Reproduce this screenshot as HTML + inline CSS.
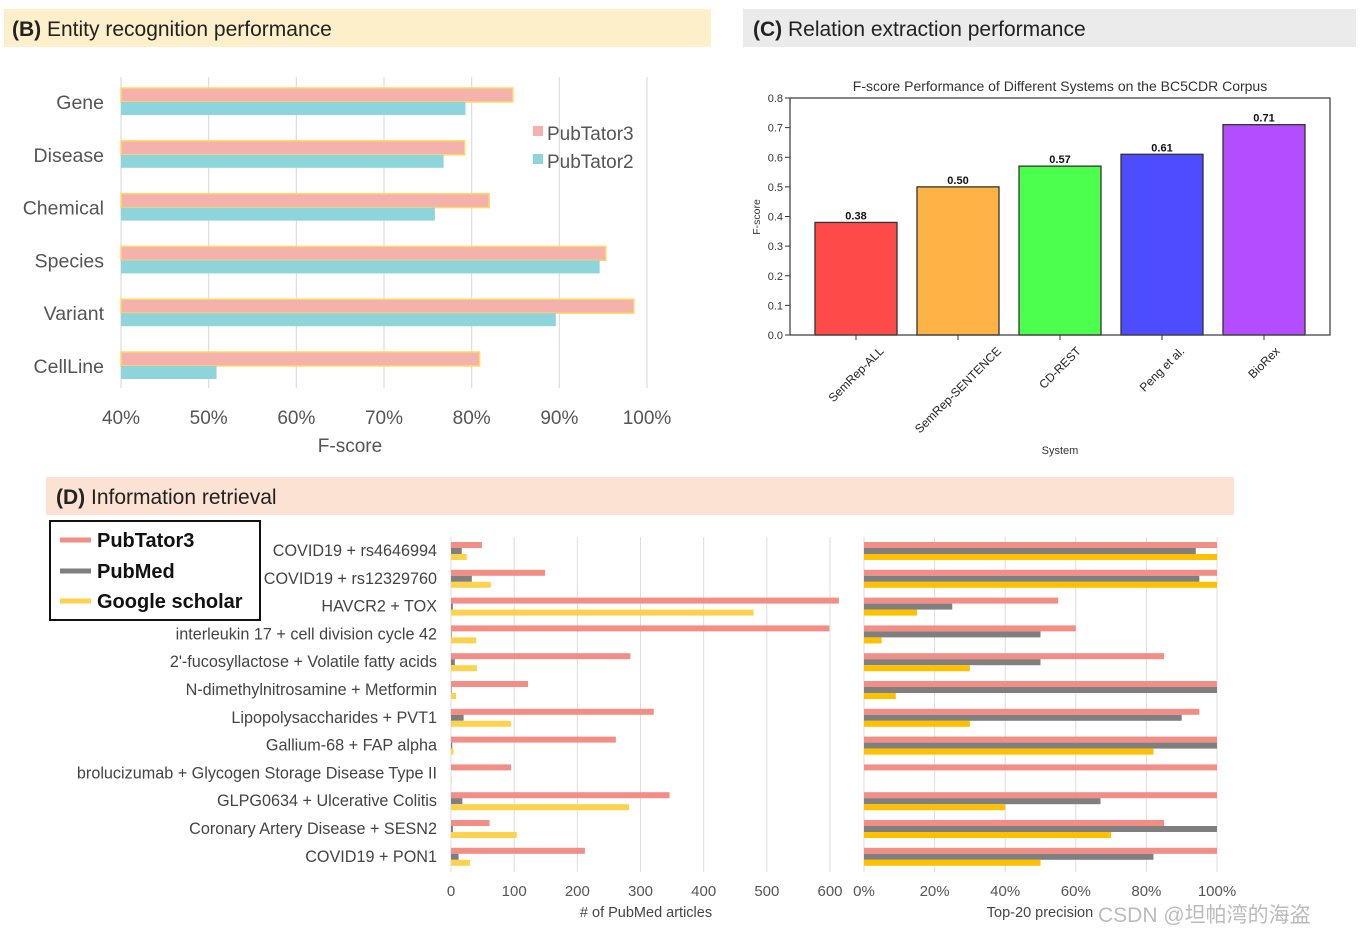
<!DOCTYPE html>
<html><head><meta charset="utf-8"><style>
html,body{margin:0;padding:0;background:#fff;}
svg{display:block;font-family:"Liberation Sans","Noto Sans CJK SC",sans-serif;}
</style></head><body>
<svg id="s" width="1362" height="938" viewBox="0 0 1362 938">
<rect x="4" y="9" width="707" height="38" fill="#fdefc9"/>
<text x="12" y="36" font-size="21" fill="#222"><tspan font-weight="bold">(B)</tspan> Entity recognition performance</text>
<rect x="743" y="9" width="613" height="38" fill="#ebebeb"/>
<text x="753" y="36" font-size="21" fill="#222"><tspan font-weight="bold">(C)</tspan> Relation extraction performance</text>
<rect x="46" y="477" width="1188" height="38" fill="#fbe2d3"/>
<text x="56" y="504" font-size="21" fill="#222"><tspan font-weight="bold">(D)</tspan> Information retrieval</text>
<g id="gB"></g>
<g id="gC"></g>
<g id="gD"></g>
<text x="1098" y="922" font-size="21" fill="#bbb">CSDN @坦帕湾的海盗</text>
</svg>
<script>
// Panel B data
const bCats=["Gene","Disease","Chemical","Species","Variant","CellLine"];
const bPT3=[84.7,79.2,82.0,95.3,98.5,80.9];
const bPT2=[79.3,76.8,75.8,94.6,89.6,50.9];
const bTicks=[40,50,60,70,80,90,100];
// Panel C data
const cCats=["SemRep-ALL","SemRep-SENTENCE","CD-REST","Peng et al.","BioRex"];
const cVals=[0.38,0.50,0.57,0.61,0.71];
const cTicks=[0,0.1,0.2,0.3,0.4,0.5,0.6,0.7,0.8];
// Panel D data
const dCats=["COVID19 + rs4646994","COVID19 + rs12329760","HAVCR2 + TOX","interleukin 17 + cell division cycle 42","2'-fucosyllactose + Volatile fatty acids","N-dimethylnitrosamine + Metformin","Lipopolysaccharides + PVT1","Gallium-68 + FAP alpha","brolucizumab + Glycogen Storage Disease Type II","GLPG0634 + Ulcerative Colitis","Coronary Artery Disease + SESN2","COVID19 + PON1"];
const dArtPT3=[49,149,614,599,284,122,321,261,95,346,61,212];
const dArtPM=[17,33,3,1,6,1,20,2,0,18,3,12];
const dArtGS=[25,63,479,40,41,8,95,4,1,282,104,30];
const dPrecPT3=[100,100,55,60,85,100,95,100,100,100,85,100];
const dPrecPM=[94,95,25,50,50,100,90,100,0,67,100,82];
const dPrecGS=[100,100,15,5,30,9,30,82,0,40,70,50];
const dArtTicks=[0,100,200,300,400,500,600];
const dPrecTicks=[0,20,40,60,80,100];

const NS="http://www.w3.org/2000/svg";
function mk(p,tag,at,txt){const e=document.createElementNS(NS,tag);for(const k in at)e.setAttribute(k,at[k]);if(txt!==undefined)e.textContent=txt;p.appendChild(e);return e;}

// ---- B
const gB=document.getElementById('gB');
const bx=v=>121+(v-40)*(647-121)/60;
const by=i=>102+i*52.8;
bTicks.forEach(t=>{
 const l=mk(gB,'line',{x1:bx(t),x2:bx(t),y1:77,y2:388,stroke:'#ddd','stroke-width':1.2});
 
 
 const tx=mk(gB,'text',{x:bx(t),y:424,'font-size':19,fill:'#555','text-anchor':'middle'},t+'%');
 
 
});
bCats.forEach((c,i)=>{
 const y=by(i);
 const t=mk(gB,'text',{x:104,y:y+7,'font-size':19.5,fill:'#555','text-anchor':'end'},c);
 
 
 const r1=mk(gB,'rect',{x:121,y:y-14,width:bx(bPT3[i])-121,height:14,fill:'#f5b1ab',stroke:'#ffd966','stroke-width':1.5});
 
 
 const r2=mk(gB,'rect',{x:121,y:y,width:bx(bPT2[i])-121,height:13,fill:'#8dd5da'});
 
 
});
const bxt=mk(gB,'text',{x:350,y:452,'font-size':19,fill:'#555','text-anchor':'middle'},'F-score');


[['PubTator3','#f5b1ab',134],['PubTator2','#8dd5da',162]].forEach(([n,c,y])=>{
 const r=mk(gB,'rect',{x:533,y:y-8,width:10,height:10,fill:c});
 
 
 const t=mk(gB,'text',{x:547,y:y+6,'font-size':19,fill:'#555'},n);
 
 
});

// ---- C
const gC=document.getElementById('gC');
const cy=v=>335-v*(335-98)/0.8;
const cx=i=>856+i*102;
const cCol=['#ff4a4a','#ffb347','#4dff4d','#4d4dff','#b44dff'];
const ct=mk(gC,'text',{x:1060,y:91,'font-size':14,fill:'#333','text-anchor':'middle'},'F-score Performance of Different Systems on the BC5CDR Corpus');


cTicks.forEach(t=>{
 const l=mk(gC,'line',{x1:785,x2:790,y1:cy(t),y2:cy(t),stroke:'#333'});
 
 
 const tx=mk(gC,'text',{x:783,y:cy(t)+4,'font-size':11,fill:'#333','text-anchor':'end'},t.toFixed(1));
 
 
});
cCats.forEach((c,i)=>{
 const r=mk(gC,'rect',{x:cx(i)-41,y:cy(cVals[i]),width:82,height:335-cy(cVals[i]),fill:cCol[i],stroke:'#333','stroke-width':1.3});
 
 
 const v=mk(gC,'text',{x:cx(i),y:cy(cVals[i])-3,'font-size':11,'font-weight':'bold',fill:'#111','text-anchor':'middle'},cVals[i].toFixed(2));
 
 
 const tk=mk(gC,'line',{x1:cx(i),x2:cx(i),y1:335,y2:340,stroke:'#333'});
 
 
 const lb=mk(gC,'text',{x:0,y:0,'font-size':12,fill:'#222','text-anchor':'middle'},c);
 
 
 const len=lb.getComputedTextLength();
 const ccy=345+len*0.3536+4;
 lb.setAttribute('transform',`translate(${cx(i)} ${ccy}) rotate(-45) translate(0 4)`);
});
const cf=mk(gC,'rect',{x:790,y:98,width:540,height:237,fill:'none',stroke:'#444','stroke-width':1.3});


const cyt=mk(gC,'text',{x:760,y:217,'font-size':10.5,fill:'#333','text-anchor':'middle',transform:'rotate(-90 760 217)'},'F-score');


const cxt=mk(gC,'text',{x:1060,y:454,'font-size':11,fill:'#333','text-anchor':'middle'},'System');



// ---- D
const gD=document.getElementById('gD');
const ax=v=>451+v*(830-451)/600;
const px=v=>864+v*(1217-864)/100;
const dy=i=>551+i*27.8;
const cR='#f28e86',cG='#7f7f7f',cY='#ffd24d',cY2='#ffc000';
dArtTicks.forEach(t=>{
 const l=mk(gD,'line',{x1:ax(t),x2:ax(t),y1:537,y2:872,stroke:'#ddd'});
 
 
 const tx=mk(gD,'text',{x:ax(t),y:896,'font-size':15,fill:'#555','text-anchor':'middle'},t);
 
 
});
dPrecTicks.forEach(t=>{
 const l=mk(gD,'line',{x1:px(t),x2:px(t),y1:537,y2:872,stroke:'#ddd'});
 
 
 const tx=mk(gD,'text',{x:px(t),y:896,'font-size':15,fill:'#555','text-anchor':'middle'},t+'%');
 
 
});
dCats.forEach((c,i)=>{
 const y=dy(i);
 const t=mk(gD,'text',{x:437,y:y+5,'font-size':16.2,fill:'#444','text-anchor':'end'},c);
 
 
 [[dArtPT3,cR,-9],[dArtPM,cG,-3],[dArtGS,cY,3]].forEach(([a,col,o])=>{
  const r=mk(gD,'rect',{x:451,y:y+o,width:Math.max(0,ax(a[i])-451),height:6,fill:col});
  
  
 });
 [[dPrecPT3,cR,-9],[dPrecPM,cG,-3],[dPrecGS,cY2,3]].forEach(([a,col,o])=>{
  const r=mk(gD,'rect',{x:864,y:y+o,width:Math.max(0,px(a[i])-864),height:6,fill:col});
  
  
 });
});
const t1=mk(gD,'text',{x:646,y:917,'font-size':14.5,fill:'#444','text-anchor':'middle'},'# of PubMed articles');


const t2=mk(gD,'text',{x:1040,y:917,'font-size':14.5,fill:'#444','text-anchor':'middle'},'Top-20 precision');


const lg=mk(gD,'rect',{x:50,y:521,width:210,height:99,fill:'#fff',stroke:'#111','stroke-width':2});


[['PubTator3',cR,540],['PubMed',cG,571],['Google scholar',cY,601]].forEach(([n,col,y])=>{
 const l=mk(gD,'line',{x1:60,x2:91,y1:y,y2:y,stroke:col,'stroke-width':5});
 
 
 const t=mk(gD,'text',{x:97,y:y+7,'font-size':20,'font-weight':'bold',fill:'#111'},n);
 
 
});
</script>
</body></html>
